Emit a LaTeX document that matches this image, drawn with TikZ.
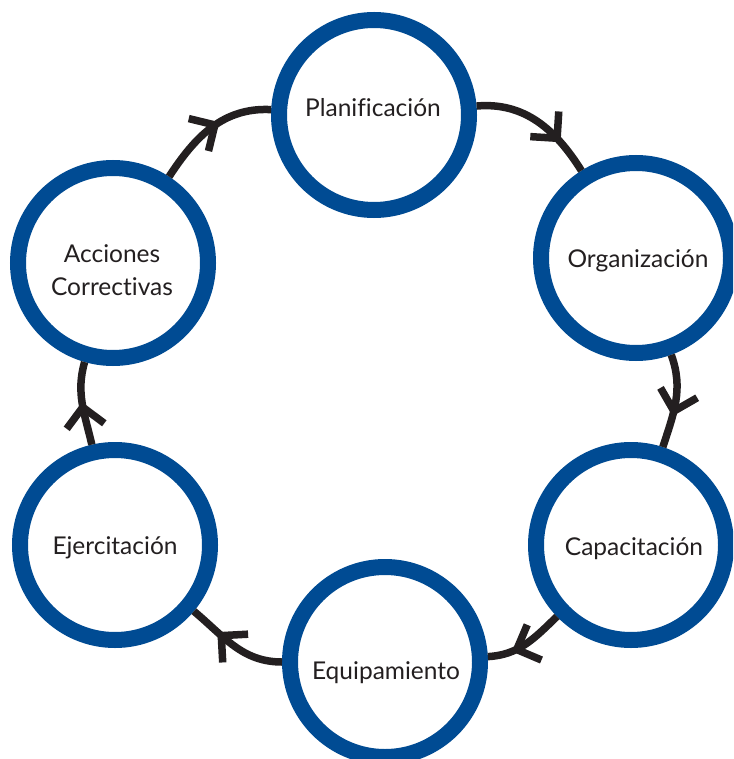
\documentclass[tikz,border=0pt]{standalone}
\usepackage{fontspec}
\setmainfont{Lato}[Ligatures={NoCommon}]
\usetikzlibrary{arrows.meta,decorations.markings}
\definecolor{ringblue}{RGB}{0,75,147}
\definecolor{inkblack}{RGB}{35,31,32}
\tikzset{
  stage/.style={circle, draw=ringblue, line width=16pt, minimum size=190pt, inner sep=0pt, fill=white},
  stagetext/.style={anchor=base, text=inkblack, font=\fontsize{24.5}{33}\selectfont, align=center, inner sep=0pt},
  flow/.style={draw=inkblack, line width=7.5pt},
  midarrow/.style={postaction={decorate}, decoration={markings, mark=at position #1 with {\arrow{Straight Barb[length=19pt,width=38pt,line width=7.5pt]}}}}
}
\begin{document}
\begin{tikzpicture}[x=1pt,y=-1pt]
\useasboundingbox (0,0) rectangle (733,759);
\begin{scope}
\clip (0,0) rectangle (733,759);
\node[stage] (plan) at (374,115) {};
\node[stage] (org) at (636,258) {};
\node[stage] (cap) at (631,545) {};
\node[stage] (equ) at (385,662) {};
\node[stage] (eje) at (115,545) {};
\node[stage] (acc) at (113,263) {};

\node[stagetext] (tplan) at (373,117) {Planificación};
\node[stagetext] (torg) at (638,267) {Organización};
\node[stagetext] (tcap) at (634,555) {Capacitación};
\node[stagetext] (tequ) at (386,679) {Equipamiento};
\node[stagetext] (teje) at (115,554) {Ejercitación};
\node[stagetext, anchor=center] (tacc) at (112,270) {Acciones\\Correctivas};

\draw[flow, midarrow=0.73] (plan) to[out=5, in=122] (org);
\draw[flow, midarrow=0.66] (org) to[out=-70, in=72] (cap);
\draw[flow, midarrow=0.70] (cap) to[out=-136, in=3] (equ);
\draw[flow, midarrow=0.70] (equ) to[out=180, in=-40] (eje);
\draw[flow, midarrow=0.52] (eje) to[out=103, in=-106] (acc);
\draw[flow, midarrow=0.58] (acc) to[out=57, in=177] (plan);
\end{scope}
\end{tikzpicture}
\end{document}
